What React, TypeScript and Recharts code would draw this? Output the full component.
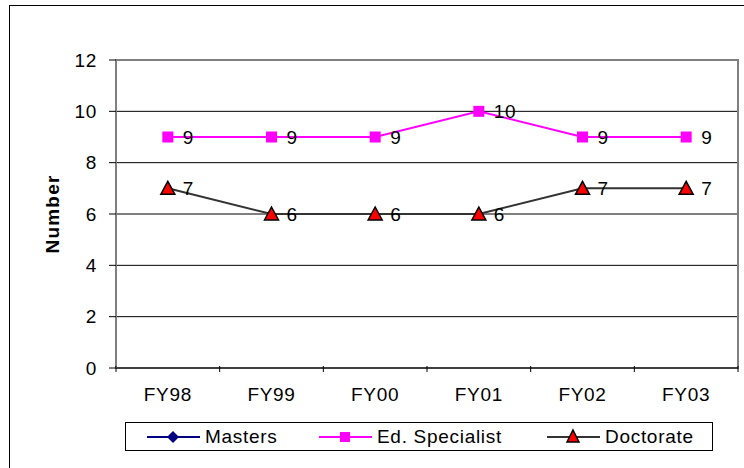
import React from "react";
import {
  CartesianGrid,
  LabelList,
  Line,
  LineChart,
  ReferenceArea,
  XAxis,
  YAxis,
} from "recharts";

const years = ["FY98", "FY99", "FY00", "FY01", "FY02", "FY03"];
const masters: (number | null)[] = [null, null, null, null, null, null];
const edSpecialist = [9, 9, 9, 10, 9, 9];
const doctorate = [7, 6, 6, 6, 7, 7];
const yTicks = [0, 2, 4, 6, 8, 10, 12];

const data = years.map((year, i) => ({
  x: i + 0.5,
  year,
  masters: masters[i],
  edSpecialist: edSpecialist[i],
  doctorate: doctorate[i],
}));

const FONT = "Arial, 'Liberation Sans', sans-serif";
const FS = 19;
const LS = 0.7;
const W = 744;
const H = 468;
const PLOT_LEFT = 116;
const PLOT_RIGHT = 738;
const BAND = (PLOT_RIGHT - PLOT_LEFT) / years.length;

function XTick(props: any) {
  const { x, y, payload } = props;
  const i = payload.value as number;
  return (
    <g>
      <line x1={x} x2={x} y1={y - 8} y2={y - 2} stroke="#000" />
      {i < years.length && (
        <text
          x={x + BAND / 2}
          y={y + 27}
          textAnchor="middle"
          fontFamily={FONT}
          fontSize={FS}
          letterSpacing={LS}
          fill="#000"
        >
          {years[i]}
        </text>
      )}
    </g>
  );
}

function ValueLabel(props: any) {
  const { x, y, value } = props;
  if (value == null) return null;
  return (
    <text
      x={x + 15}
      y={y + 7}
      fontFamily={FONT}
      fontSize={FS}
      letterSpacing={LS}
      fill="#000"
    >
      {value}
    </text>
  );
}

function SquareDot(props: any) {
  const { cx, cy } = props;
  if (cx == null || cy == null) return null;
  return <rect x={cx - 5.5} y={cy - 5.5} width={11} height={11} fill="#FF00FF" />;
}

function TriangleDot(props: any) {
  const { cx, cy } = props;
  if (cx == null || cy == null) return null;
  return (
    <path
      d={`M${cx},${cy - 7} L${cx + 7},${cy + 6} L${cx - 7},${cy + 6} Z`}
      fill="#FF0000"
      stroke="#000"
      strokeWidth={1.5}
    />
  );
}

function DiamondDot(props: any) {
  const { cx, cy } = props;
  if (cx == null || cy == null) return null;
  return (
    <path
      d={`M${cx},${cy - 6} L${cx + 6},${cy} L${cx},${cy + 6} L${cx - 6},${cy} Z`}
      fill="#000080"
    />
  );
}

function LegendItem({
  left,
  label,
  color,
  marker,
}: {
  left: number;
  label: string;
  color: string;
  marker: React.ReactNode;
}) {
  return (
    <div
      style={{
        position: "absolute",
        left,
        top: 0,
        height: 27,
        display: "flex",
        alignItems: "center",
      }}
    >
      <svg width={53} height={18}>
        <line x1={0} x2={53} y1={9} y2={9} stroke={color} strokeWidth={2} />
        {marker}
      </svg>
      <span
        style={{
          marginLeft: 5,
          fontFamily: FONT,
          fontSize: FS,
          letterSpacing: LS,
          color: "#000",
          lineHeight: "27px",
        }}
      >
        {label}
      </span>
    </div>
  );
}

export default function App() {
  return (
    <div style={{ position: "absolute", left: 0, top: 0, width: W, height: H, overflow: "hidden", background: "#fff" }}>
      <div
        style={{
          position: "absolute",
          left: 9,
          top: 5,
          width: 800,
          height: 500,
          borderLeft: "1px solid #000",
          borderTop: "1px solid #000",
        }}
      />
      <div style={{ position: "absolute", left: 0, top: 0 }}>
        <LineChart
          width={W}
          height={H}
          data={data}
          margin={{ top: 60, right: W - PLOT_RIGHT, left: 56, bottom: 70 }}
        >
          <CartesianGrid vertical={false} stroke="#000" strokeWidth={1} />
          <XAxis
            dataKey="x"
            type="number"
            domain={[0, years.length]}
            ticks={[0, 1, 2, 3, 4, 5, 6]}
            interval={0}
            height={30}
            axisLine={{ stroke: "#000" }}
            tickLine={false}
            tick={<XTick />}
            tickMargin={0}
          />
          <YAxis
            domain={[0, 12]}
            ticks={yTicks}
            interval={0}
            width={60}
            axisLine={{ stroke: "#808080", strokeWidth: 2 }}
            tickLine={{ stroke: "#000" }}
            tickSize={7}
            tickMargin={12}
            tick={{ fontFamily: FONT, fontSize: FS, fill: "#000", letterSpacing: LS }}
            label={{
              value: "Number",
              angle: -90,
              position: "insideLeft",
              offset: 0,
              dx: -4,
              style: {
                fontFamily: FONT,
                fontSize: FS,
                letterSpacing: 1.2,
                fontWeight: "bold",
                fill: "#000",
                textAnchor: "middle",
              },
            }}
          />
          <ReferenceArea
            x1={0}
            x2={years.length}
            y1={0}
            y2={12}
            fill="none"
            stroke="#808080"
            strokeWidth={2}
            ifOverflow="extendDomain"
          />
          <Line
            dataKey="masters"
            name="Masters"
            stroke="#000080"
            strokeWidth={2}
            dot={<DiamondDot />}
            isAnimationActive={false}
          />
          <Line
            dataKey="edSpecialist"
            name="Ed. Specialist"
            stroke="#FF00FF"
            strokeWidth={2}
            dot={<SquareDot />}
            isAnimationActive={false}
          >
            <LabelList dataKey="edSpecialist" content={<ValueLabel />} />
          </Line>
          <Line
            dataKey="doctorate"
            name="Doctorate"
            stroke="#333333"
            strokeWidth={2}
            dot={<TriangleDot />}
            isAnimationActive={false}
          >
            <LabelList dataKey="doctorate" content={<ValueLabel />} />
          </Line>
        </LineChart>
      </div>
      <div
        style={{
          position: "absolute",
          left: 125,
          top: 422,
          width: 586,
          height: 27,
          border: "1px solid #000",
          background: "#fff",
        }}
      >
        <LegendItem
          left={21}
          label="Masters"
          color="#000080"
          marker={<path d="M26,3 L32,9 L26,15 L20,9 Z" fill="#000080" />}
        />
        <LegendItem
          left={193}
          label="Ed. Specialist"
          color="#FF00FF"
          marker={<rect x={21} y={4} width={10} height={10} fill="#FF00FF" />}
        />
        <LegendItem
          left={421}
          label="Doctorate"
          color="#333333"
          marker={<path d="M26,2 L32,14 L20,14 Z" fill="#FF0000" stroke="#000" strokeWidth={1.5} />}
        />
      </div>
    </div>
  );
}
